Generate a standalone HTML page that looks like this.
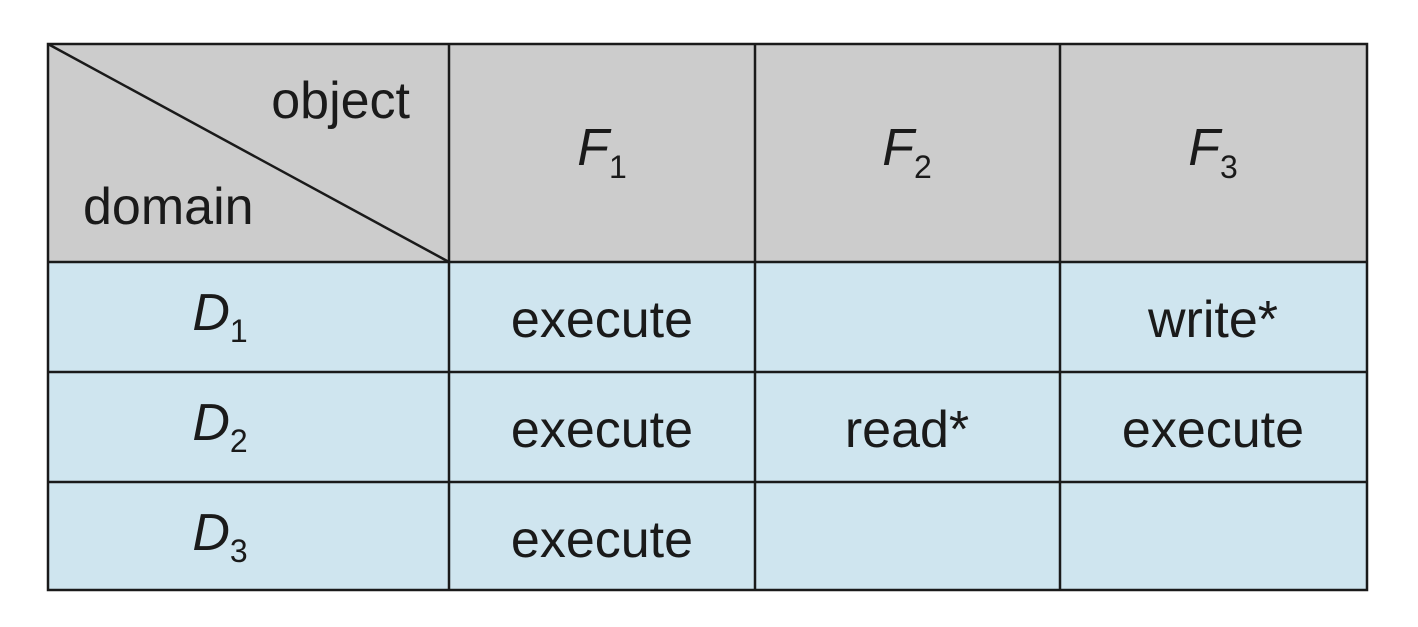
<!DOCTYPE html>
<html><head><style>html,body{margin:0;padding:0;background:#fff;}</style></head>
<body>
<svg width="1418" height="622" viewBox="0 0 1418 622" xmlns="http://www.w3.org/2000/svg" font-family="Liberation Sans, Arial, sans-serif" fill="#1a1a1a">
<rect x="48" y="44" width="1319" height="218" fill="#cccccc"/>
<rect x="48" y="262" width="1319" height="328" fill="#cfe5ef"/>
<g stroke="#1a1a1a" stroke-width="2.5" fill="none">
<rect x="48" y="44" width="1319" height="546"/>
<line x1="48" y1="262" x2="1367" y2="262"/>
<line x1="48" y1="372" x2="1367" y2="372"/>
<line x1="48" y1="482" x2="1367" y2="482"/>
<line x1="449" y1="44" x2="449" y2="590"/>
<line x1="755" y1="44" x2="755" y2="590"/>
<line x1="1060" y1="44" x2="1060" y2="590"/>
<line x1="48" y1="44" x2="449" y2="262"/>
</g>
<g font-size="52">
<text x="410" y="118" text-anchor="end">object</text>
<text x="83" y="224">domain</text>
<text x="602" y="165" text-anchor="middle"><tspan font-style="italic">F</tspan><tspan font-size="32" dy="13">1</tspan></text>
<text x="907" y="165" text-anchor="middle"><tspan font-style="italic">F</tspan><tspan font-size="32" dy="13">2</tspan></text>
<text x="1213" y="165" text-anchor="middle"><tspan font-style="italic">F</tspan><tspan font-size="32" dy="13">3</tspan></text>
<text x="220" y="330" text-anchor="middle"><tspan font-style="italic">D</tspan><tspan font-size="32" dy="12">1</tspan></text>
<text x="220" y="440" text-anchor="middle"><tspan font-style="italic">D</tspan><tspan font-size="32" dy="12">2</tspan></text>
<text x="220" y="550" text-anchor="middle"><tspan font-style="italic">D</tspan><tspan font-size="32" dy="12">3</tspan></text>
<text x="602" y="337" text-anchor="middle">execute</text>
<text x="602" y="447" text-anchor="middle">execute</text>
<text x="602" y="557" text-anchor="middle">execute</text>
<text x="907" y="447" text-anchor="middle">read*</text>
<text x="1213" y="337" text-anchor="middle">write*</text>
<text x="1213" y="447" text-anchor="middle">execute</text>
</g>
</svg>
</body></html>
